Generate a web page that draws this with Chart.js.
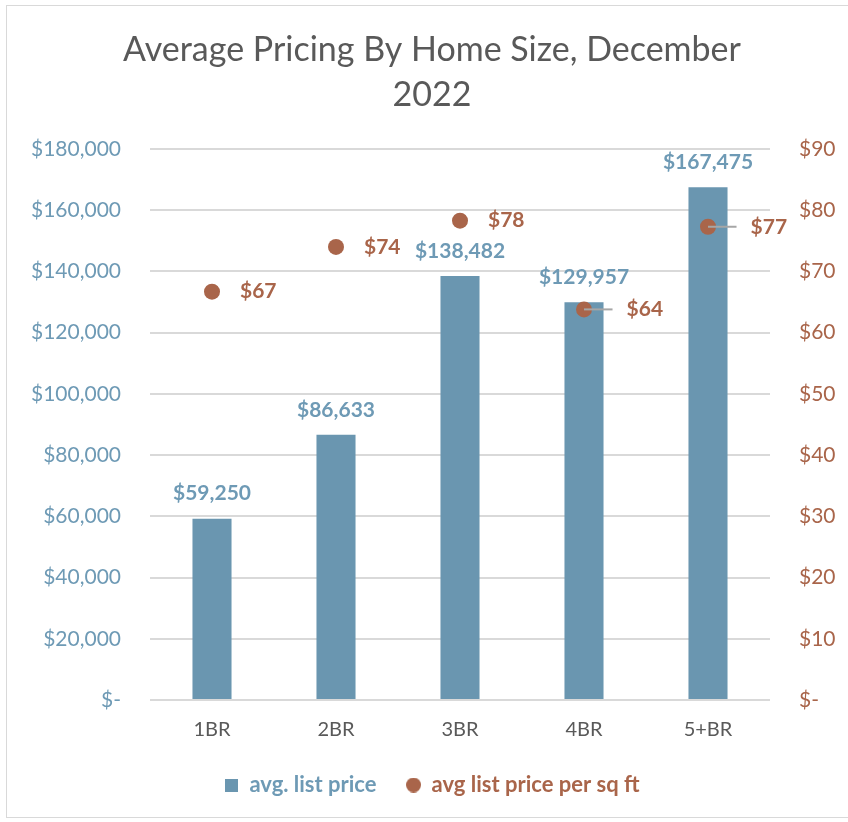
<!DOCTYPE html>
<html>
<head>
<meta charset="utf-8">
<script src="https://cdn.jsdelivr.net/npm/chart.js@4.4.1/dist/chart.umd.min.js"></script>
<style>
  html, body { margin: 0; padding: 0; background: #ffffff; }
  #wrap { position: relative; width: 848px; height: 822px; }
</style>
</head>
<body>
<div id="wrap"><canvas id="c" width="848" height="822"></canvas></div>
<script>
const categories = ['1BR', '2BR', '3BR', '4BR', '5+BR'];
const avgListPrice = [59250, 86633, 138482, 129957, 167475];
const avgPricePerSqFt = [66.7, 74.0, 78.3, 63.8, 77.3];
const titleLines = ['Average Pricing By Home Size, December', '2022'];
const seriesNames = ['avg. list price', 'avg list price per sq ft'];

const BLUE = '#6A96B0';
const BLUE_TEXT = '#6E9AB5';
const BROWN = '#A9654A';
const BROWN_TEXT = '#A9654A';
const GRID = '#D9D9D9';
const FONT = 'Lato, "Open Sans", sans-serif';

function marker(shape, color, size) {
  const c = document.createElement('canvas');
  c.width = size; c.height = size;
  const g = c.getContext('2d');
  g.fillStyle = color;
  if (shape === 'circle') { g.beginPath(); g.arc(size / 2, size / 2, size / 2, 0, Math.PI * 2); g.fill(); }
  else { g.fillRect(0, 0, size, size); }
  return c;
}

const frame = {
  id: 'frame',
  beforeDraw(chart) {
    const ctx = chart.ctx;
    ctx.save();
    ctx.fillStyle = '#ffffff';
    ctx.fillRect(0, 0, chart.width, chart.height);
    ctx.strokeStyle = '#D9D9D9';
    ctx.lineWidth = 1;
    ctx.strokeRect(6.5, 5.5, 850, 812);
    ctx.restore();
  }
};

const labelsPlugin = {
  id: 'valueLabels',
  afterDatasetsDraw(chart) {
    const ctx = chart.ctx;
    ctx.save();
    ctx.textBaseline = 'middle';
    ctx.font = 'bold 21px ' + FONT;
    const barMeta = chart.getDatasetMeta(0);
    const ptMeta = chart.getDatasetMeta(1);
    barMeta.data.forEach((el, i) => {
      ctx.fillStyle = BLUE_TEXT;
      ctx.textAlign = 'center';
      ctx.fillText('$' + avgListPrice[i].toLocaleString('en-US'), el.x, el.y - 25);
    });
    ptMeta.data.forEach((pt, i) => {
      const bar = barMeta.data[i];
      const barRight = bar.x + bar.width / 2;
      const text = '$' + Math.round(avgPricePerSqFt[i]);
      ctx.textAlign = 'left';
      ctx.fillStyle = BROWN_TEXT;
      if (pt.y > bar.y) {
        ctx.strokeStyle = '#A6A6A6';
        ctx.lineWidth = 2;
        ctx.beginPath();
        ctx.moveTo(pt.x, pt.y);
        ctx.lineTo(barRight + 9, pt.y);
        ctx.stroke();
        ctx.fillText(text, barRight + 23, pt.y);
      } else {
        ctx.fillText(text, pt.x + 28, pt.y);
      }
    });
    ctx.restore();
  }
};

new Chart(document.getElementById('c'), {
  type: 'bar',
  data: {
    labels: categories,
    datasets: [
      {
        label: seriesNames[0],
        data: avgListPrice,
        backgroundColor: BLUE,
        yAxisID: 'y',
        categoryPercentage: 1,
        barPercentage: 0.315,
        order: 2
      },
      {
        type: 'line',
        label: seriesNames[1],
        data: avgPricePerSqFt,
        yAxisID: 'y1',
        showLine: false,
        pointRadius: 8,
        pointHoverRadius: 8,
        pointBackgroundColor: BROWN,
        pointBorderWidth: 0,
        backgroundColor: BROWN,
        borderColor: BROWN,
        order: 1
      }
    ]
  },
  options: {
    responsive: false,
    animation: false,
    events: [],
    layout: { padding: { left: 16, right: 0, top: 0, bottom: 16 } },
    plugins: {
      title: {
        display: true,
        text: titleLines,
        color: '#595959',
        font: { family: FONT, size: 34, weight: 'normal', lineHeight: 45 / 34 },
        padding: { top: 27.5, bottom: 31.5 }
      },
      legend: {
        position: 'bottom',
        labels: {
          usePointStyle: true,
          boxWidth: 14,
          boxHeight: 14,
          padding: 30,
          font: { family: FONT, size: 22, weight: 'bold' },
          generateLabels(chart) {
            const styles = [marker('rect', BLUE, 13), marker('circle', BROWN, 15)];
            const colors = [BLUE_TEXT, BROWN_TEXT];
            return chart.data.datasets.map((ds, i) => ({
              text: ds.label,
              fillStyle: ds.backgroundColor,
              strokeStyle: ds.backgroundColor,
              lineWidth: 0,
              pointStyle: styles[i],
              fontColor: colors[i],
              hidden: false,
              datasetIndex: i
            }));
          }
        }
      },
      tooltip: { enabled: false }
    },
    scales: {
      x: {
        grid: { display: false, drawTicks: false },
        border: { display: false },
        ticks: { color: '#595959', font: { family: FONT, size: 20 }, padding: 18 },
        afterFit(s) { s.height = 44; }
      },
      y: {
        position: 'left',
        min: 0, max: 180000,
        ticks: {
          stepSize: 20000,
          color: BLUE_TEXT,
          font: { family: FONT, size: 21 },
          padding: 29,
          callback: v => v === 0 ? '$-' : '$' + v.toLocaleString('en-US')
        },
        grid: { color: GRID, lineWidth: 2, drawTicks: false },
        border: { display: false },
        afterFit(s) { s.width = 134; }
      },
      y1: {
        position: 'right',
        min: 0, max: 90,
        ticks: {
          stepSize: 10,
          color: BROWN_TEXT,
          font: { family: FONT, size: 21 },
          padding: 29,
          callback: v => v === 0 ? '$-' : '$' + v
        },
        grid: { display: false, drawTicks: false },
        border: { display: false },
        afterFit(s) { s.width = 78; }
      }
    }
  },
  plugins: [frame, labelsPlugin]
});
</script>
</body>
</html>
